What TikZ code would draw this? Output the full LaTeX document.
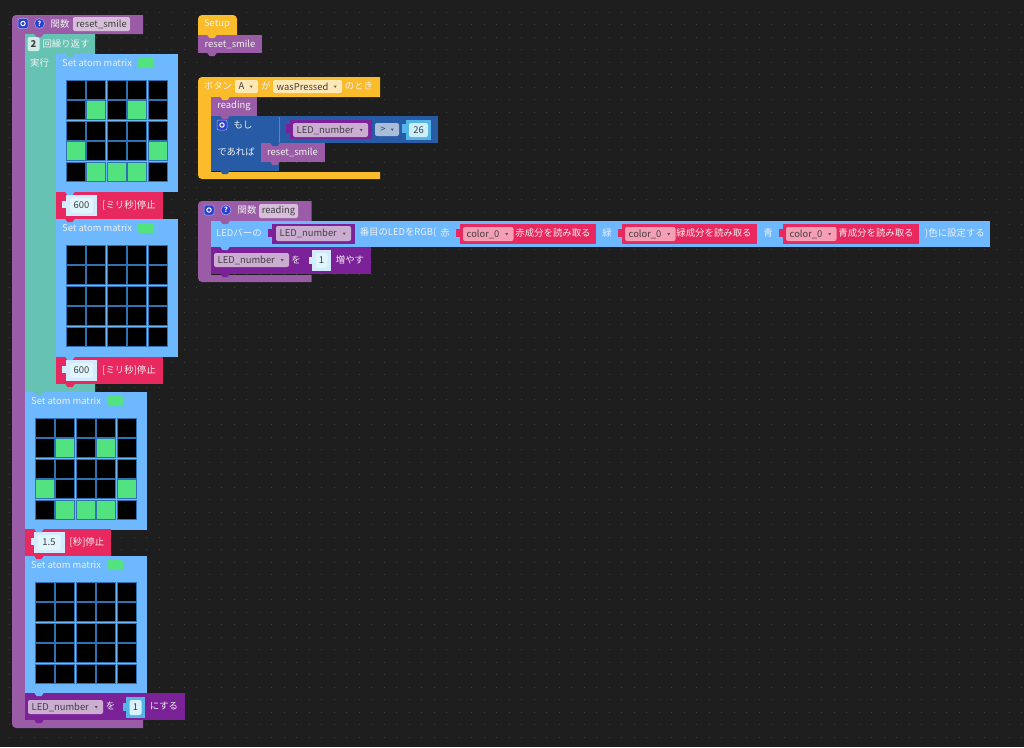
\documentclass[tikz,border=0pt]{standalone}
\usepackage{fontspec}
\setmainfont{Noto Sans CJK JP}
\usetikzlibrary{calc}

\definecolor{canvasbg}{HTML}{1E1E1E}
\definecolor{griddot}{HTML}{3C3C3C}
\definecolor{funcpurple}{HTML}{9A5CA6}
\definecolor{varpurple}{HTML}{7B2298}
\definecolor{loopteal}{HTML}{66C2B2}
\definecolor{ledblue}{HTML}{6DB8FF}
\definecolor{ifblue}{HTML}{285BA6}
\definecolor{delayred}{HTML}{E8295F}
\definecolor{hatamber}{HTML}{FBBC2C}
\definecolor{lampgreen}{HTML}{52E27F}
\definecolor{cellline}{HTML}{2E72B4}
\definecolor{iconblue}{HTML}{2A3FD0}
\definecolor{skybox}{HTML}{55B4E8}

\tikzset{
  lbl/.style={text=white!88!gray,font=\fontsize{9.4}{10}\selectfont,inner sep=0pt},
  darklbl/.style={text=black!75,font=\fontsize{9.4}{10}\selectfont,inner sep=0pt},
  field/.style={fill=#1,rounded corners=2pt,inner sep=0pt},
  valuebox/.style={fill=#1,inner sep=0pt},
  iconbtn/.style={circle,fill=iconblue,draw=white!60!iconblue,line width=.5pt,inner sep=0pt,minimum size=10pt,text=white,font=\fontsize{7}{8}\bfseries\selectfont},
  gearbtn/.style={rectangle,rounded corners=2pt,fill=iconblue,draw=white!60!iconblue,line width=.5pt,inner sep=0pt,minimum size=10pt},
  lampcell/.style={fill=#1,draw=cellline,line width=.9pt,inner sep=0pt,minimum size=19pt}
}

%this draws a dropdown field with a label
\newcommand{\dropfield}[7]{
  \node [field=#6,minimum width={(#3)-(#1)},minimum height={(#4)-(#2)}] (#5) at ({((#1)+(#3))/2},{((#2)+(#4))/2}) {};
  \node [darklbl,anchor=west] (#5t) at ({(#1)+3.5},{((#2)+(#4))/2}) {#7};
  \fill[#6!45!black] ($(#5.east)+(-8.5,-1)$) -- ($(#5.east)+(-5.5,-1)$) -- ($(#5.east)+(-7,1.5)$) -- cycle;
}
%this draws the puzzle tab on the left of a socket
\newcommand{\socket}[4]{
  \fill[#4] (#1-3.5,#2) rectangle (#1+.5,#3);
}
%this draws the gear button
\newcommand{\gearicon}[3]{
  \node [gearbtn] (#1) at (#2,#3) {};
  \draw[white,line width=1pt] (#1) circle (2.2);
}
%this draws the five by five lamps
\newcommand{\lampgrid}[4]{
  \foreach \n in {0,...,24} {
    \pgfmathtruncatemacro{\row}{int(\n/5)}
    \pgfmathtruncatemacro{\col}{mod(\n,5)}
    \node [lampcell=black] (#1-\n) at ({#2+\col*20.5+9.5},{#3+\row*20.5+9.5}) {};
  }
  \foreach \n in {#4} {
    \ifnum\n>-1
      \node [lampcell=lampgreen] (#1-on\n) at (#1-\n) {};
    \fi
  }
}
%this draws the whole matrix block
\newcommand{\matrixblock}[4]{
  \fill[ledblue] (#2,#3) rectangle (#2+122,#3+138);
  \node [lbl,anchor=west] (#1t) at (#2+6,#3+9) {Set atom matrix};
  \fill[lampgreen,rounded corners=1.5pt] (#2+82,#3+4) rectangle (#2+98,#3+14);
  \lampgrid{#1}{#2+10.3}{#3+26.3}{#4}
}
%this draws the stop block
\newcommand{\delayblock}[8]{
  \fill[delayred] (#2,#3) rectangle (#4,#3+27);
  \socket{#2+9}{#3+9}{#3+16}{white!70!ledblue}
  \node [valuebox=white!70!ledblue,minimum width=31pt,minimum height=21pt] (#1b) at (#2+#5,#3+13.5) {};
  \node [field=white!88!cyan,minimum width=23pt,minimum height=15pt] (#1f) at (#1b) {};
  \node [darklbl] (#1v) at (#1b) {#6};
  \node [lbl] (#1t) at (#4-#7,#3+13) {#8};
}

\begin{document}
\begin{tikzpicture}[x=1pt,y=-1pt]
  \useasboundingbox (0,0) rectangle (1024,747);
  \fill[canvasbg] (0,0) rectangle (1024,747);
  %this draws the dots of the workspace
  \foreach \i in {0,...,81}
    \foreach \j in {0,...,59}
      \fill[griddot] ({9.3+\i*12.5-.5},{12+\j*12.5-.5}) rectangle +(1,1);

  %this draws the reset_smile function
  \fill[funcpurple] (12,30) [rounded corners=4pt] -- (12,15) -- (30,15) [sharp corners] -- (143,15) -- (143,34) -- (25,34) -- (25,720) -- (143,720) -- (143,728) -- (30,728) [rounded corners=4pt] -- (12,728) -- (12,700) [sharp corners] -- cycle;
  \gearicon{gear0}{23}{23.5}
  \node [iconbtn] (help0) at (39.5,23.5) {?};
  \node [lbl] (func0) at (60,23.5) {関数};
  \node [field=white!60!funcpurple,minimum width=57pt,minimum height=14pt] (name0) at (101.5,24) {};
  \node [darklbl] (namet0) at (name0) {reset\_smile};

  %this draws the repeat loop
  \fill[loopteal] (25,34) -- (95,34) -- (95,54) -- (56,54) -- (56,383) -- (95,383) -- (95,392) -- (25,392) -- cycle;
  \node [field=white!70!loopteal,minimum width=12pt,minimum height=14pt] (times) at (33.5,44) {};
  \node [darklbl] (timest) at (times) {\textbf{2}};
  \node [lbl] (rep) at (66,44) {回繰り返す};
  \node [lbl] (run) at (39.5,63) {実行};

  %this draws the matrix and stop blocks
  \matrixblock{m1}{56}{54}{6,8,15,19,21,22,23}
  \delayblock{d1}{56}{192}{163}{25.5}{600}{34}{[ミリ秒]停止}
  \matrixblock{m2}{56}{219}{-1}
  \delayblock{d2}{56}{357}{163}{25.5}{600}{34}{[ミリ秒]停止}
  \matrixblock{m3}{25}{392}{6,8,15,19,21,22,23}
  \delayblock{d3}{25}{529}{111}{24}{1.5}{24}{[秒]停止}
  \matrixblock{m4}{25}{556}{-1}

  %this draws the last set block
  \fill[varpurple] (25,693) rectangle (184.5,720);
  \dropfield{28}{700}{103}{714}{v1}{white!50!funcpurple}{LED\_number}
  \node [lbl] (wo1) at (110.5,706) {を};
  \socket{126}{703}{711}{skybox}
  \node [valuebox=skybox,minimum width=19pt,minimum height=21pt] (n1b) at (135.5,707.5) {};
  \node [field=white!85!cyan,minimum width=12pt,minimum height=15pt] (n1f) at (n1b) {};
  \node [darklbl] (n1v) at (n1b) {1};
  \node [lbl] (suru) at (164,706) {にする};

  %this draws the setup blocks
  \fill[hatamber] (198,35) [rounded corners=4pt] -- (198,15) -- (237,15) [sharp corners] -- (237,35) -- cycle;
  \node [lbl] (setup) at (217,24) {Setup};
  \fill[funcpurple] (198,34.5) rectangle (262,53);
  \node [lbl] (call0) at (230,44) {reset\_smile};

  %this draws the button event
  \fill[hatamber] (198,100) [rounded corners=4pt] -- (198,77) -- (230,77) [sharp corners] -- (380,77) -- (380,97) -- (211,97) -- (211,172) -- (380,172) -- (380,179) -- (230,179) [rounded corners=4pt] -- (198,179) -- (198,150) [sharp corners] -- cycle;
  \node [lbl] (btn) at (218,86) {ボタン};
  \dropfield{235}{80}{258}{93}{ba}{white!65!hatamber}{A}
  \node [lbl] (ga) at (266,86) {が};
  \dropfield{273}{80}{342}{93}{bw}{white!65!hatamber}{wasPressed}
  \node [lbl] (toki) at (359,86) {のとき};
  \fill[funcpurple] (211,97) rectangle (257,116);
  \node [lbl] (read0) at (234,106) {reading};

  %this draws the if block
  \fill[ifblue] (211,116) rectangle (279,171);
  \fill[ifblue] (279,116) rectangle (437.5,143);
  \draw[white!25!ifblue,line width=.5pt] (279,117) -- (279,143);
  \gearicon{gear1}{222}{125}
  \node [lbl] (moshi) at (243,125) {もし};
  \node [lbl] (deareba) at (236,152) {であれば};
  \fill[varpurple] (290,120) rectangle (372,139);
  \fill[varpurple] (285.5,124) rectangle (290,133);
  \dropfield{293}{123}{368}{137}{v2}{white!50!funcpurple}{LED\_number}
  \dropfield{375}{123}{399}{136}{op}{white!60!ifblue}{\,>}
  \socket{405}{124}{133}{skybox}
  \node [valuebox=skybox,minimum width=25pt,minimum height=20pt] (n2b) at (418.5,130) {};
  \node [field=white!80!cyan,minimum width=19pt,minimum height=14pt] (n2f) at (n2b) {};
  \node [darklbl] (n2v) at (n2b) {26};
  \fill[funcpurple] (261,143) rectangle (324.5,162);
  \node [lbl] (call1) at (292.5,152.5) {reset\_smile};

  %this draws the reading function
  \fill[funcpurple] (198,220) [rounded corners=4pt] -- (198,201) -- (225,201) [sharp corners] -- (311.5,201) -- (311.5,221) -- (211,221) -- (211,275) -- (311.5,275) -- (311.5,282) -- (225,282) [rounded corners=4pt] -- (198,282) -- (198,260) [sharp corners] -- cycle;
  \gearicon{gear2}{209}{210}
  \node [iconbtn] (help2) at (226,210) {?};
  \node [lbl] (func2) at (247,210) {関数};
  \node [field=white!60!funcpurple,minimum width=39pt,minimum height=14pt] (name2) at (278.5,211) {};
  \node [darklbl] (namet2) at (name2) {reading};

  %this draws the LED bar block
  \fill[ledblue] (211,221) rectangle (990,247);
  \node [lbl] (ledbar) at (239,233) {LEDバーの};
  \fill[varpurple] (272,224) rectangle (355,244);
  \fill[varpurple] (268,229) rectangle (272,237);
  \dropfield{276}{226}{351}{241}{v3}{white!50!funcpurple}{LED\_number}
  \node [lbl] (ban) at (398,233) {番目のLEDをRGB(};
  \node [lbl] (aka) at (445,233) {赤};
  \node [lbl] (midori) at (607,233) {緑};
  \node [lbl] (ao) at (768,233) {青};
  \node [lbl] (iro) at (955,233) {)色に設定する};
  %this draws the three colour readers
  \foreach \x/\w/\c/\s in {460/136/553/赤,622/135/714/緑,783/136/876/青} {
    \fill[delayred] (\x,224) rectangle (\x+\w,244);
    \fill[delayred] (\x-4,229) rectangle (\x,237);
    \dropfield{\x+3}{227}{\x+53.5}{241}{c\x}{white!55!delayred}{color\_0}
    \node [lbl] (r\x) at (\c,233) {\s 成分を読み取る};
  }

  %this draws the increase block
  \fill[varpurple] (211,247) rectangle (371,274);
  \dropfield{214}{253}{289}{267}{v4}{white!50!funcpurple}{LED\_number}
  \node [lbl] (wo2) at (296,260) {を};
  \socket{312}{257}{264}{white!70!ledblue}
  \node [valuebox=white!70!ledblue,minimum width=19pt,minimum height=21pt] (n3b) at (321.5,260.5) {};
  \node [field=white!88!cyan,minimum width=12pt,minimum height=15pt] (n3f) at (n3b) {};
  \node [darklbl] (n3v) at (n3b) {1};
  \node [lbl] (fuyasu) at (350,260) {増やす};

  %this draws the little tabs under the blocks
  \foreach \x/\y/\c in {25/34/funcpurple,56/54/loopteal,56/192/ledblue,56/219/delayred,56/357/ledblue,56/384/delayred,25/392/loopteal,25/529/ledblue,25/556/delayred,25/693/ledblue,25/720/varpurple,198/35/hatamber,198/53/funcpurple,211/97/hatamber,211/116/funcpurple,211/171/ifblue,261/143/ifblue,261/162/funcpurple,211/221/funcpurple,211/247/ledblue,211/274/varpurple}
    \fill[\c] (\x+9,\y-.5) -- (\x+11.5,\y+3) -- (\x+16.5,\y+3) -- (\x+19,\y-.5) -- cycle;
\end{tikzpicture}
\end{document}
